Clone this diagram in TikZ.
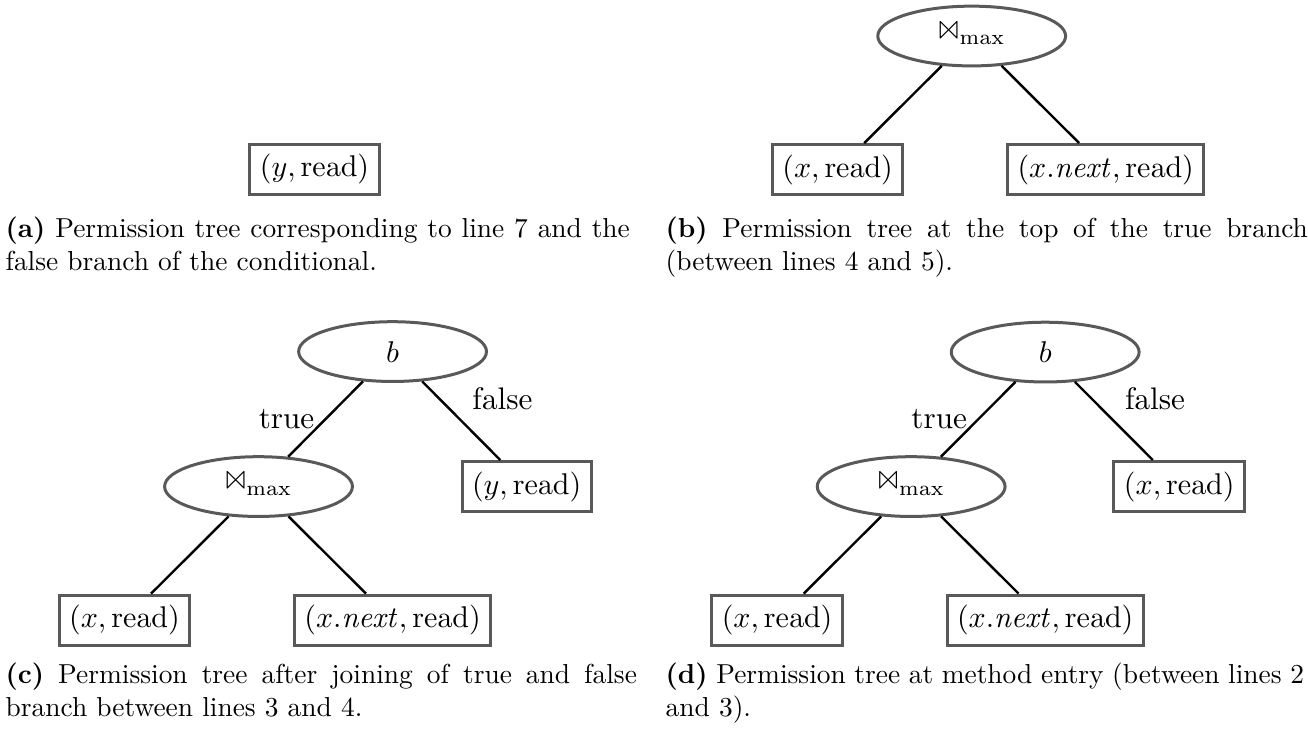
\documentclass[tikz,border=0pt]{standalone}
\usepackage{latexsym}
\usetikzlibrary{shapes.geometric}
\newcommand{\permcap}[2]{\scalebox{0.914}{\parbox[t]{#1}{\fontsize{10}{12}\selectfont\hyphenpenalty=10000 #2}}}
\begin{document}
\begin{tikzpicture}[
  permbox/.style={draw=black!65, line width=1pt, rectangle, font=\fontsize{10.4}{12}\selectfont},
  opnode/.style={draw=black!65, line width=1pt, ellipse, minimum width=2.2cm, minimum height=0.70cm, inner sep=0pt, font=\fontsize{10.4}{12}\selectfont},
  branch/.style={line width=0.8pt, font=\fontsize{10.4}{12}\selectfont},
  capt/.style={anchor=north west, inner sep=0pt}
]
\useasboundingbox (0,0) rectangle (15.32,-8.563);
% (a) false branch
\node[permbox] (ay) at (3.684, -1.980) {$(y, \mathrm{read})$};
\node[capt] (acap) at (0.059, -2.535) {\permcap{8.0cm}{\textbf{(a)} Permission tree corresponding to line 7 and the false branch of the conditional.}};
% (b) top of true branch
\node[opnode] (bmax) at (11.381, -0.422) {$\Join_{\max}$};
\node[permbox] (bx) at (9.811, -1.986) {$(x, \mathrm{read})$};
\node[permbox] (bnext) at (12.951, -1.986) {$(x.\mathit{next}, \mathrm{read})$};
\draw[branch] (bmax) -- (bx);
\draw[branch] (bmax) -- (bnext);
\node[capt] (bcap) at (7.79, -2.535) {\permcap{8.23cm}{\textbf{(b)} Permission tree at the top of the true branch (between lines 4 and 5).}};
% (c) after the join
\node[opnode] (cb) at (4.598, -4.118) {$b$};
\node[opnode] (cmax) at (3.028, -5.699) {$\Join_{\max}$};
\node[permbox] (cy) at (6.168, -5.699) {$(y, \mathrm{read})$};
\node[permbox] (cx) at (1.458, -7.263) {$(x, \mathrm{read})$};
\node[permbox] (cnext) at (4.598, -7.263) {$(x.\mathit{next}, \mathrm{read})$};
\draw[branch] (cb) -- node[left] {true} (cmax);
\draw[branch] (cb) -- node[above right] {false} (cy);
\draw[branch] (cmax) -- (cx);
\draw[branch] (cmax) -- (cnext);
\node[capt] (ccap) at (0.059, -7.760) {\permcap{8.09cm}{\textbf{(c)} Permission tree after joining of true and false branch between lines 3 and 4.}};
% (d) method entry
\node[opnode] (db) at (12.242, -4.124) {$b$};
\node[opnode] (dmax) at (10.672, -5.699) {$\Join_{\max}$};
\node[permbox] (dy) at (13.812, -5.699) {$(x, \mathrm{read})$};
\node[permbox] (dx) at (9.102, -7.263) {$(x, \mathrm{read})$};
\node[permbox] (dnext) at (12.242, -7.263) {$(x.\mathit{next}, \mathrm{read})$};
\draw[branch] (db) -- node[left] {true} (dmax);
\draw[branch] (db) -- node[above right] {false} (dy);
\draw[branch] (dmax) -- (dx);
\draw[branch] (dmax) -- (dnext);
\node[capt] (dcap) at (7.79, -7.760) {\permcap{8.18cm}{\textbf{(d)} Permission tree at method entry (between lines 2 and 3).}};
\end{tikzpicture}
\end{document}
